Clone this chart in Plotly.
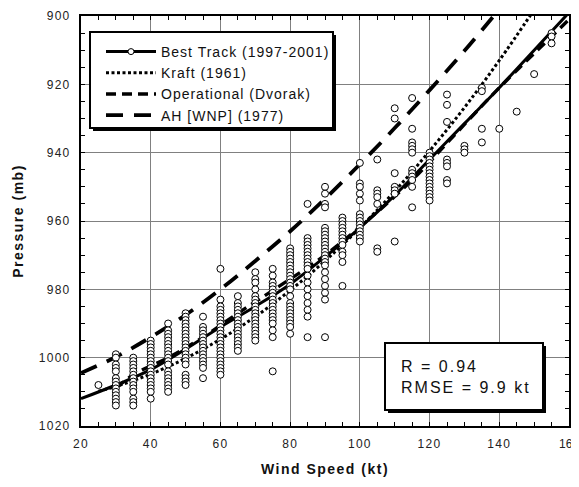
import plotly.graph_objects as go

# ---------------- data ----------------
# fitted / reference curves (wind speed kt -> MSLP mb)
bt_wind = [20, 30, 40, 50, 60, 70, 80, 90, 100, 110, 120, 130, 140, 150, 160]
bt_pres = [1012, 1008, 1003.5, 997.5, 991, 985, 978.5, 970.5, 962, 952.5, 942, 931.5, 921, 910, 899]

kraft_wind = [25, 30, 40, 50, 60, 70, 80, 90, 100, 110, 120, 130, 140, 150]
kraft_pres = [1009.8, 1008.4, 1004.8, 1000.2, 994.6, 988, 980.3, 971.7, 962, 951.3, 939.5, 926.8, 913, 898.2]

dvorak_wind = [30, 35, 45, 55, 65, 77, 90, 102, 115, 127, 140, 155, 160]
dvorak_pres = [1009, 1005, 1000, 994, 987, 979, 970, 960, 948, 935, 921, 906, 901]

ah_wind = [20, 30, 40, 50, 60, 70, 80, 90, 100, 110, 120, 130, 140]
ah_pres = [1004.5, 999.8, 994, 987.5, 980, 971.7, 963, 953.5, 943.4, 932.8, 921.7, 910.2, 898]

# best-track observations, one list of pressures per wind-speed bin
obs_bins = [25, 30, 35, 40, 45, 50, 55, 60, 65, 70, 75, 80, 85, 90, 95, 100,
            105, 110, 115, 120, 125, 130, 135, 140, 145, 150, 155]
p25 = [1008]
p30 = [999, 1000, 1002, 1003, 1004, 1006, 1007, 1008, 1009, 1010, 1011, 1012, 1013, 1014]
p35 = [1000, 1001, 1002, 1003, 1004, 1005, 1006, 1007, 1008, 1009, 1010, 1012, 1013, 1014]
p40 = [995, 996, 997, 998, 999, 1000, 1001, 1002, 1003, 1004, 1005, 1006, 1007, 1008, 1009, 1010, 1012]
p45 = [990, 992, 993, 994, 995, 996, 997, 998, 999, 1000, 1001, 1002, 1004, 1005, 1006, 1007, 1008, 1009, 1010]
p50 = [987, 988, 989, 990, 991, 992, 993, 994, 995, 996, 997, 998, 999, 1000, 1001, 1002, 1005, 1006, 1007, 1008]
p55 = [988, 991, 992, 993, 994, 995, 996, 997, 998, 999, 1000, 1001, 1002, 1003, 1006]
p60 = [974, 983, 985, 986, 987, 988, 989, 990, 991, 992, 993, 994, 995, 996, 997, 998, 999, 1000, 1001, 1002, 1003, 1004, 1005]
p65 = [982, 984, 985, 986, 987, 988, 989, 990, 991, 992, 993, 994, 995, 996, 997, 998]
p70 = [975, 977, 978, 980, 982, 983, 984, 985, 986, 987, 988, 989, 990, 991, 992, 993, 994, 995]
p75 = [974, 976, 978, 979, 980, 981, 982, 983, 984, 985, 986, 987, 988, 989, 990, 992, 994, 1004]
p80 = [968, 969, 970, 971, 972, 973, 974, 975, 976, 977, 978, 979, 980, 982, 984, 985, 986, 987, 988, 989, 990, 991, 993]
p85 = [955, 965, 966, 967, 968, 969, 970, 971, 972, 973, 974, 976, 978, 980, 982, 984, 986, 988, 994]
p90 = [950, 952, 955, 956, 962, 963, 964, 965, 966, 967, 968, 969, 970, 971, 972, 973, 975, 977, 979, 981, 983, 994]
p95 = [959, 960, 961, 962, 963, 964, 965, 966, 967, 969, 970, 972, 979]
p100 = [943, 949, 950, 952, 954, 958, 959, 960, 961, 962, 963, 964, 965, 966]
p105 = [942, 951, 952, 953, 955, 968, 969]
p110 = [927, 930, 946, 950, 951, 952, 966]
p115 = [924, 933, 937, 938, 939, 940, 945, 946, 947, 948, 950, 956]
p120 = [940, 941, 942, 943, 944, 945, 946, 947, 948, 949, 950, 951, 952, 953, 954]
p125 = [923, 926, 931, 942, 943, 944, 948, 949]
p130 = [938, 939, 940]
p135 = [921, 922, 933, 937]
p140 = [933]
p145 = [928]
p150 = [917]
p155 = [905, 906, 908]
obs_pres = [p25, p30, p35, p40, p45, p50, p55, p60, p65, p70, p75, p80, p85, p90, p95,
            p100, p105, p110, p115, p120, p125, p130, p135, p140, p145, p150, p155]

x_ticks = [20, 40, 60, 80, 100, 120, 140, 160]
y_ticks = [900, 920, 940, 960, 980, 1000, 1020]

legend_names = ["Best Track (1997-2001)", "Kraft (1961)", "Operational (Dvorak)", "AH [WNP] (1977)"]
stats_text = ["R = 0.94", "RMSE = 9.9 kt"]

# ---------------- build figure ----------------
FONT = "Arial, Liberation Sans, sans-serif"


def spaced(s, ls):
    return '<span style="letter-spacing:%spx">%s</span>' % (ls, s)


obs_x, obs_y = [], []
for w, plist in zip(obs_bins, obs_pres):
    obs_x += [w] * len(plist)
    obs_y += plist

KRAFT_LINE = dict(color="black", width=3, dash="3px,2.5px")
DVORAK_LINE = dict(color="black", width=3.4, dash="10px,6px")
AH_LINE = dict(color="black", width=3.8, dash="17px,11px")
BT_LINE = dict(color="black", width=3)

fig = go.Figure()
fig.add_trace(go.Scatter(x=kraft_wind, y=kraft_pres, mode="lines", line_shape="spline",
                         line=KRAFT_LINE, showlegend=False, hoverinfo="skip"))
fig.add_trace(go.Scatter(x=dvorak_wind, y=dvorak_pres, mode="lines", line_shape="spline",
                         line=DVORAK_LINE, showlegend=False, hoverinfo="skip"))
fig.add_trace(go.Scatter(x=ah_wind, y=ah_pres, mode="lines", line_shape="spline",
                         line=AH_LINE, showlegend=False, hoverinfo="skip"))
fig.add_trace(go.Scatter(x=bt_wind, y=bt_pres, mode="lines", line_shape="spline",
                         line=BT_LINE, showlegend=False, hoverinfo="skip"))
fig.add_trace(go.Scatter(x=obs_x, y=obs_y, mode="markers",
                         marker=dict(symbol="circle", size=7, color="white",
                                     line=dict(color="black", width=1)),
                         showlegend=False))

# legend entries
fig.add_trace(go.Scatter(x=[None], y=[None], mode="lines+markers", name=spaced(legend_names[0], 1),
                         line=BT_LINE,
                         marker=dict(symbol="circle", size=6, color="white", line=dict(color="black", width=1))))
fig.add_trace(go.Scatter(x=[None], y=[None], mode="lines", name=spaced(legend_names[1], 1), line=KRAFT_LINE))
fig.add_trace(go.Scatter(x=[None], y=[None], mode="lines", name=spaced(legend_names[2], 1), line=DVORAK_LINE))
fig.add_trace(go.Scatter(x=[None], y=[None], mode="lines", name=spaced(legend_names[3], 1), line=AH_LINE))

# page is 579x487 but the browser body has an 8px margin
PAGE_W, PAGE_H, OFF = 579, 487, 8
W, H = PAGE_W - OFF, PAGE_H - OFF
PL, PR, PT, PB = 81, 569, 16, 426          # plot area in page pixels
L, T = PL - OFF, PT - OFF
R, B = PAGE_W - PR, PAGE_H - PB
pw, ph = PR - PL, PB - PT


def px(xp):
    return (xp - PL) / pw


def py(yp):
    return 1 - (yp - PT) / ph


shapes = []
# legend box with shadow
shapes.append(dict(type="rect", xref="paper", yref="paper", layer="above",
                   x0=px(93), x1=px(336), y0=py(131), y1=py(35),
                   fillcolor="black", line=dict(width=0)))
shapes.append(dict(type="rect", xref="paper", yref="paper", layer="above",
                   x0=px(90), x1=px(333), y0=py(128), y1=py(32),
                   fillcolor="white", line=dict(color="black", width=2)))
# stats box with shadow
shapes.append(dict(type="rect", xref="paper", yref="paper", layer="above",
                   x0=px(388), x1=px(546), y0=py(413), y1=py(346),
                   fillcolor="black", line=dict(width=0)))
shapes.append(dict(type="rect", xref="paper", yref="paper", layer="above",
                   x0=px(385), x1=px(543), y0=py(410), y1=py(343),
                   fillcolor="white", line=dict(color="black", width=2)))

annotations = [
    dict(xref="paper", yref="paper", x=px(399), y=py(377), xanchor="left", yanchor="middle",
         text=spaced(stats_text[0], 2) + "<br>" + spaced(stats_text[1], 2), align="left",
         showarrow=False, font=dict(family=FONT, size=16, color="#111")),
]

tick_font = dict(family=FONT, size=12, color="#222")
axis_common = dict(showline=True, linecolor="black", linewidth=2, mirror="ticks",
                   showgrid=True, gridcolor="#808080", gridwidth=1,
                   ticks="inside", ticklen=4, tickcolor="black", tickwidth=1,
                   zeroline=False, tickfont=tick_font, ticklabeloverflow="allow",
                   automargin=False)

# last x label sits on the page edge: no extra tracking so it stays visible
x_ticktext = [spaced(str(v), 1.3) for v in x_ticks[:-1]] + [spaced(str(x_ticks[-1]), 0)]

fig.update_layout(
    width=W, height=H, autosize=False,
    margin=dict(l=L, r=R, t=T, b=B),
    paper_bgcolor="white", plot_bgcolor="white",
    font=dict(family=FONT, color="black"),
    xaxis=dict(range=[20, 160], tickvals=x_ticks, ticktext=x_ticktext,
               ticklabelstandoff=6,
               minor=dict(dtick=5, ticks="inside", ticklen=4, tickcolor="black", showgrid=False),
               title=dict(text="<b>" + spaced("Wind Speed (kt)", 1.5) + "</b>",
                          font=dict(family=FONT, size=14, color="#111"), standoff=14),
               **axis_common),
    yaxis=dict(range=[1020, 900], tickvals=y_ticks, ticktext=[spaced(str(v), 1.3) for v in y_ticks],
               ticklabelstandoff=6,
               minor=dict(dtick=5, ticks="inside", ticklen=4, tickcolor="black", showgrid=False),
               title=dict(text="<b>" + spaced("Pressure (mb)", 1.5) + "</b>",
                          font=dict(family=FONT, size=14, color="#111"), standoff=12),
               **axis_common),
    legend=dict(x=px(101), y=py(36), xanchor="left", yanchor="top",
                bgcolor="rgba(0,0,0,0)", borderwidth=0,
                font=dict(family=FONT, size=14, color="#111"), itemwidth=50,
                tracegroupgap=0),
    shapes=shapes,
    annotations=annotations,
)

fig.write_html("out.html")
